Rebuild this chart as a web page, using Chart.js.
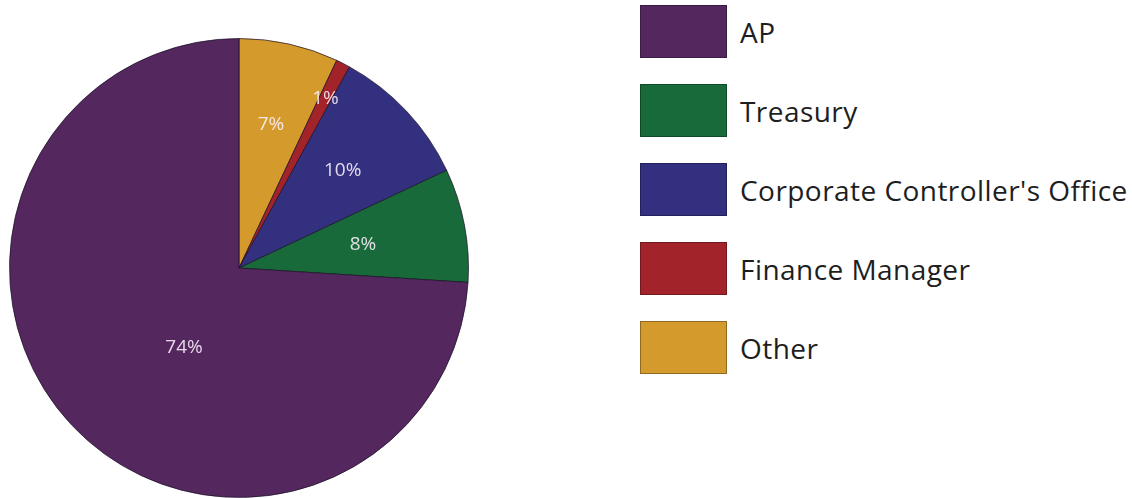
<!DOCTYPE html>
<html>
<head>
<meta charset="utf-8">
<script src="https://cdn.jsdelivr.net/npm/chart.js@4.4.1/dist/chart.umd.min.js"></script>
<style>
  body { margin: 0; background: #fff; }
  #wrap { position: relative; width: 1132px; height: 498px; overflow: hidden; }
  #pie { position: absolute; left: 0; top: 0; }
  #legend { position: absolute; left: 640px; top: 5px; margin: 0; padding: 0; list-style: none;
            font-family: "Open Sans", sans-serif; font-size: 28px; letter-spacing: 0.45px; color: #1e1e1e; }
  #legend li { display: flex; align-items: center; height: 53px; margin-bottom: 26px; white-space: nowrap; }
  #legend span.box { display: inline-block; width: 85px; height: 51px; margin-right: 13px; border: 1px solid; }
</style>
</head>
<body>
<div id="wrap">
  <canvas id="pie" width="478" height="498"></canvas>
  <ul id="legend"></ul>
</div>
<script>
// legend order
var categories = ["AP", "Treasury", "Corporate Controller's Office", "Finance Manager", "Other"];
var shares = [74, 8, 10, 1, 7];
var colors = ["#54285f", "#186a3b", "#33307f", "#a3232b", "#d49a2b"];
var edgeColors = ["#3c1c44", "#0f4a28", "#22205a", "#701a1e", "#8f6a20"];

// where each % label sits: fraction of radius, and nudge in degrees
var labelRadius = [0.42, 0.55, 0.62, 0.83, 0.64];
var labelNudge = [-12, 0, 0, 0, 0];

// slices go clockwise from 12 o'clock starting with "Other", so feed reversed
function rev(a){ return a.slice().reverse(); }

var pctLabels = {
  id: 'pctLabels',
  afterDatasetsDraw: function(chart){
    var ctx = chart.ctx;
    var meta = chart.getDatasetMeta(0);
    var n = meta.data.length;
    ctx.save();
    ctx.font = '19px "Open Sans", sans-serif';
    ctx.fillStyle = 'rgba(250,240,250,0.88)';
    ctx.textAlign = 'center';
    ctx.textBaseline = 'middle';
    meta.data.forEach(function(arc, i){
      var k = n - 1 - i; // index in legend order
      var p = arc.getProps(['x', 'y', 'startAngle', 'endAngle', 'outerRadius'], true);
      var a = (p.startAngle + p.endAngle) / 2 + labelNudge[k] * Math.PI / 180;
      var r = p.outerRadius * labelRadius[k];
      ctx.fillText(shares[k] + '%', p.x + Math.cos(a) * r, p.y + Math.sin(a) * r);
    });
    ctx.restore();
  }
};

var chart = new Chart(document.getElementById('pie'), {
  type: 'pie',
  data: {
    labels: rev(categories),
    datasets: [{
      data: rev(shares),
      backgroundColor: rev(colors),
      borderColor: 'rgba(25,15,35,0.7)',
      borderWidth: 1,
      hoverOffset: 0
    }]
  },
  options: {
    responsive: false,
    animation: false,
    layout: { padding: { top: 38 } },
    plugins: {
      legend: { display: false },
      tooltip: { enabled: false }
    }
  },
  plugins: [pctLabels]
});

// html legend, AP first
var ul = document.getElementById('legend');
categories.forEach(function(name, i){
  var li = document.createElement('li');
  var box = document.createElement('span');
  box.className = 'box';
  box.style.background = colors[i];
  box.style.borderColor = edgeColors[i];
  li.appendChild(box);
  li.appendChild(document.createTextNode(name));
  ul.appendChild(li);
});
</script>
</body>
</html>
